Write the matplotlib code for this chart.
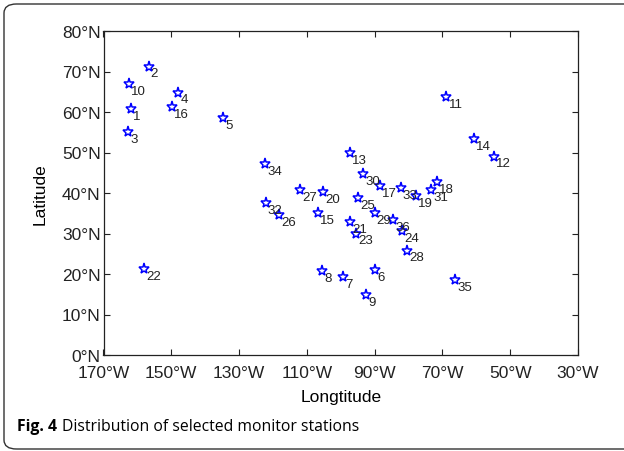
import matplotlib
matplotlib.use("Agg")
import matplotlib.pyplot as plt
from matplotlib.patches import FancyBboxPatch

plt.rcParams['font.family'] = ['Liberation Sans', 'DejaVu Sans']

station_ids = list(range(1, 37))
lons = [-161.8, -156.7, -162.7, -147.9, -134.6, -89.9, -99.3, -105.4, -92.6, -162.6,
        -68.8, -54.8, -97.4, -60.6, -106.7, -149.9, -88.5, -71.7, -77.7, -105.2,
        -97.2, -158.0, -95.4, -82.0, -94.9, -118.1, -112.1, -80.5, -90.0, -93.3,
        -73.3, -122.2, -82.3, -122.3, -66.2, -84.5]
lats = [60.7, 71.2, 55.1, 64.8, 58.4, 21.0, 19.3, 20.7, 14.7, 66.8,
        63.7, 49.0, 49.9, 53.3, 35.1, 61.2, 41.7, 42.7, 39.2, 40.2,
        32.8, 21.2, 30.0, 30.6, 38.8, 34.6, 40.7, 25.8, 35.1, 44.6,
        40.7, 37.5, 41.2, 47.2, 18.4, 33.3]

x_ticks = [-170, -150, -130, -110, -90, -70, -50, -30]
x_ticklabels = ['170°W', '150°W', '130°W', '110°W', '90°W', '70°W', '50°W', '30°W']
y_ticks = [0, 10, 20, 30, 40, 50, 60, 70, 80]
y_ticklabels = ['0°N', '10°N', '20°N', '30°N', '40°N', '50°N', '60°N', '70°N', '80°N']

W, H = 624, 452
fig = plt.figure(figsize=(W / 100, H / 100), dpi=100)

# rounded frame around whole figure
frame = FancyBboxPatch((4 / W, 2 / H), (W + 20) / W, (H - 7) / H,
                       boxstyle="round,pad=0,rounding_size=0.02",
                       transform=fig.transFigure, fill=False,
                       edgecolor='#333333', linewidth=1.0, clip_on=False)
fig.patches.append(frame)

ax = fig.add_axes([103.5 / W, 1 - 356 / H, (578 - 103.5) / W, (356 - 32) / H])
ax.plot(lons, lats, linestyle='none', marker='*', markersize=8,
        markerfacecolor='none', markeredgecolor='blue', markeredgewidth=1.1)
for sid, lo, la in zip(station_ids, lons, lats):
    ax.annotate(str(sid), (lo, la), xytext=(1.5, -0.5), textcoords='offset points',
                ha='left', va='top', fontsize=9.5, color='#222222')

ax.set_xlim(-170, -30)
ax.set_ylim(0, 80)
ax.set_xticks(x_ticks)
ax.set_xticklabels(x_ticklabels)
ax.set_yticks(y_ticks)
ax.set_yticklabels(y_ticklabels)
ax.tick_params(direction='in', length=4, width=0.8, top=True, right=True,
               labelsize=12.5, colors='#222222')
ax.tick_params(axis='x', pad=7)
ax.tick_params(axis='y', pad=2)
for s in ax.spines.values():
    s.set_linewidth(0.9)
    s.set_color('#222222')
ax.set_xlabel('Longtitude', fontsize=12.5, labelpad=7)
ax.set_ylabel('Latitude', fontsize=12.5, labelpad=10)

fig.text(17 / W, 1 - 431 / H, r'Fig. 4', fontsize=11.3, fontweight='bold',
         ha='left', va='baseline', family=['Open Sans', 'DejaVu Sans'])
fig.text(62 / W, 1 - 431 / H, 'Distribution of selected monitor stations',
         fontsize=11.3, ha='left', va='baseline',
         family=['Open Sans', 'DejaVu Sans'])

fig.savefig('out.png', dpi=100)
